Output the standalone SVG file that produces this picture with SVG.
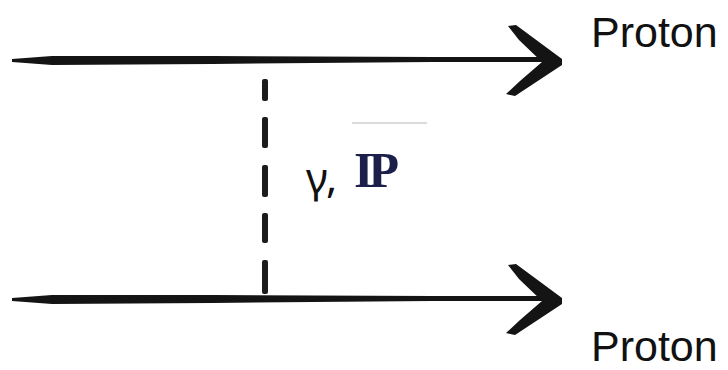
<svg xmlns="http://www.w3.org/2000/svg" width="728" height="370" viewBox="0 0 728 370">
  <style>
    .ink { fill: #141414; }
    .dash { fill: #1c1c1c; }
    .label { font-family: "Liberation Sans", Arial, sans-serif; font-size: 43px; fill: #111; }
    .gamma { font-family: "Noto Sans", "Liberation Sans", sans-serif; font-size: 42px; fill: #111; }
    .pom { font-family: "Liberation Serif", "Times New Roman", serif; font-weight: bold; font-size: 50px; fill: #1b1f4a; letter-spacing: -5px; }
  </style>
  <defs>
    <path id="chev" d="M-52,-36 L-44,-37 L2,-3 L2,3 L-45,34 L-54,32 L-40,19 L-18,0 L-41,-22 Z"/>
    <path id="shaft" d="M0,-1 L40,-4 L200,-4 L420,-3 L536,-3 L536,2 L420,2 L200,4 L40,5 L0,2 Z"/>
  </defs>
  <rect width="728" height="370" fill="#fff"/>
  <g id="connectors">
    <g id="proton-top-line">
      <use href="#shaft" class="ink" x="12" y="60"/>
      <use href="#chev" class="ink" x="560" y="62"/>
    </g>
    <g id="proton-bottom-line">
      <use href="#shaft" class="ink" x="12" y="299"/>
      <use href="#chev" class="ink" x="560" y="301"/>
    </g>
    <g id="exchange">
      <rect class="dash" x="262" y="79" width="6" height="22" rx="2"/>
      <rect class="dash" x="262" y="117" width="6" height="31" rx="2"/>
      <rect class="dash" x="262" y="165" width="6" height="32" rx="2"/>
      <rect class="dash" x="262" y="213" width="6" height="30" rx="2"/>
      <rect class="dash" x="262" y="260" width="6" height="34" rx="2"/>
    </g>
  </g>
  <g id="proton-top">
    <text class="label" x="591" y="47">Proton</text>
  </g>
  <g id="proton-bottom">
    <text class="label" x="591" y="361">Proton</text>
  </g>
  <g id="exchange-label">
    <line x1="352" y1="123" x2="427" y2="123" stroke="#b8b8b8" stroke-width="1.2"/>
    <text class="gamma" x="306" y="193">γ,</text>
    <text class="pom" x="354" y="187">IP</text>
  </g>
</svg>
